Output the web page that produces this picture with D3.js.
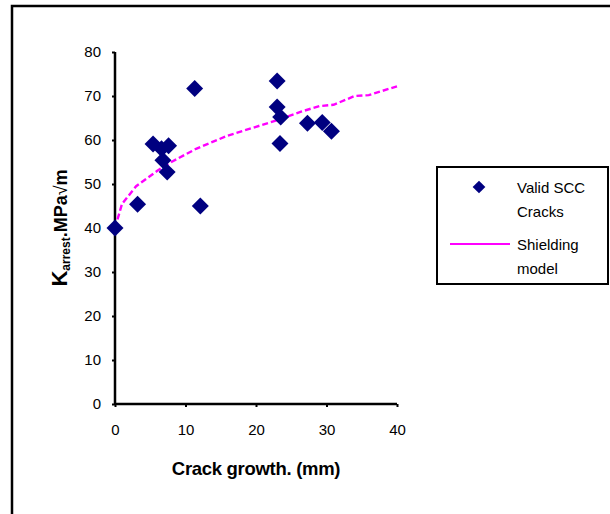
<!DOCTYPE html>
<html>
<head>
<meta charset="utf-8">
<script src="https://cdn.jsdelivr.net/npm/d3@7"></script>
<style>
  body { margin: 0; background: #fff; }
  text { font-family: "Liberation Sans", Arial, sans-serif; }
</style>
</head>
<body>
<script>
const svgWidth = 610
const svgHeight = 514

// measured SCC cracks
const crackX = [0, 3.2, 5.4, 6.6, 7.6, 6.8, 7.4, 11.3, 12.1, 23.0, 23.0, 23.5, 23.4, 27.3, 29.4, 30.7]
const crackK = [40, 45.4, 59.1, 58.0, 58.7, 55.4, 52.7, 71.7, 45.0, 73.4, 67.5, 65.2, 59.2, 63.8, 64.0, 62.0]

// shielding model curve
const modelX = [0, 1, 3, 6, 8, 11.5, 16, 20, 23, 26.5, 29, 31, 34, 36, 40]
const modelK = [40, 45.5, 49.5, 53, 55, 58, 61, 63, 64.5, 66.5, 67.7, 68, 70, 70.2, 72.2]

const xTicks = [0, 10, 20, 30, 40]
const yTicks = [0, 10, 20, 30, 40, 50, 60, 70, 80]

const margin = { top: 52, left: 115 }
const chartWidth = 282
const chartHeight = 352

const svg = d3.select("body").append("svg")
    .attr("width", svgWidth)
    .attr("height", svgHeight)

// outer frame (runs off the right and bottom edge)
svg.append("rect")
    .attr("x", 12).attr("y", 6)
    .attr("width", 640).attr("height", 540)
    .attr("fill", "none")
    .attr("stroke", "#000")
    .attr("stroke-width", 2.5)

const chartG = svg.append("g")
    .attr("transform", `translate(${margin.left}, ${margin.top})`)

const x = d3.scaleLinear().domain([0, 40]).range([0, chartWidth])
const y = d3.scaleLinear().domain([0, 80]).range([chartHeight, 0])

const xAxis = d3.axisBottom(x).tickValues(xTicks).tickSize(3).tickPadding(17)
const yAxis = d3.axisLeft(y).tickValues(yTicks).tickSize(3).tickPadding(11)

const gx = chartG.append("g")
    .attr("transform", `translate(0, ${chartHeight})`)
    .call(xAxis)
const gy = chartG.append("g").call(yAxis)

;[gx, gy].forEach(g => {
  g.select(".domain").attr("stroke", "#000").attr("stroke-width", 2.5)
  g.selectAll(".tick line").attr("stroke", "#000").attr("stroke-width", 2)
  g.selectAll(".tick text")
    .attr("font-family", "Liberation Sans, Arial, sans-serif")
    .attr("font-size", 15)
    .attr("fill", "#000")
})
gx.select(".domain").attr("d", `M0,0H${chartWidth}`)
gy.select(".domain").attr("d", `M0,0V${chartHeight}`)

// model line
const line = d3.line()
    .x((d, i) => x(modelX[i]))
    .y(d => y(d))

chartG.append("path")
    .datum(modelK)
    .attr("d", line)
    .attr("fill", "none")
    .attr("stroke", "#ff00ff")
    .attr("stroke-width", 2.4)
    .attr("stroke-dasharray", "6,3")

// crack markers
const diamond = d3.symbol().type(d3.symbolSquare).size(144)

chartG.selectAll("path.pt")
    .data(crackK)
    .enter()
    .append("path")
    .attr("class", "pt")
    .attr("d", diamond)
    .attr("transform", (d, i) => `translate(${x(crackX[i])}, ${y(d)}) rotate(45)`)
    .attr("fill", "#000080")

// axis titles
svg.append("text")
    .attr("x", 256).attr("y", 475)
    .attr("text-anchor", "middle")
    .attr("font-size", 18.5)
    .attr("font-weight", "bold")
    .attr("letter-spacing", -0.3)
    .text("Crack growth. (mm)")

const yTitle = svg.append("text")
    .attr("transform", "translate(67, 228) rotate(-90)")
    .attr("text-anchor", "middle")
    .attr("font-size", 18)
    .attr("font-weight", "bold")
yTitle.append("tspan").attr("font-size", 22).text("K")
yTitle.append("tspan").attr("font-size", 12).attr("dy", 3).text("arrest")
yTitle.append("tspan").attr("dy", -3).text(".MPa")
yTitle.append("tspan").attr("font-weight", "normal").text("√")
yTitle.append("tspan").text("m")

// legend
const legend = svg.append("g")
legend.append("rect")
    .attr("x", 437).attr("y", 167)
    .attr("width", 171).attr("height", 117)
    .attr("fill", "#fff")
    .attr("stroke", "#000")
    .attr("stroke-width", 2)

legend.append("path")
    .attr("d", d3.symbol().type(d3.symbolSquare).size(81))
    .attr("transform", "translate(479, 187) rotate(45)")
    .attr("fill", "#000080")

legend.append("line")
    .attr("x1", 450).attr("x2", 510)
    .attr("y1", 244).attr("y2", 244)
    .attr("stroke", "#ff00ff")
    .attr("stroke-width", 2.2)

const legendText = [["Valid SCC", 193], ["Cracks", 217], ["Shielding", 250], ["model", 274]]
legend.selectAll("text.lg")
    .data(legendText)
    .enter()
    .append("text")
    .attr("class", "lg")
    .attr("x", 517)
    .attr("y", d => d[1])
    .attr("font-size", 15)
    .text(d => d[0])
</script>
</body>
</html>
